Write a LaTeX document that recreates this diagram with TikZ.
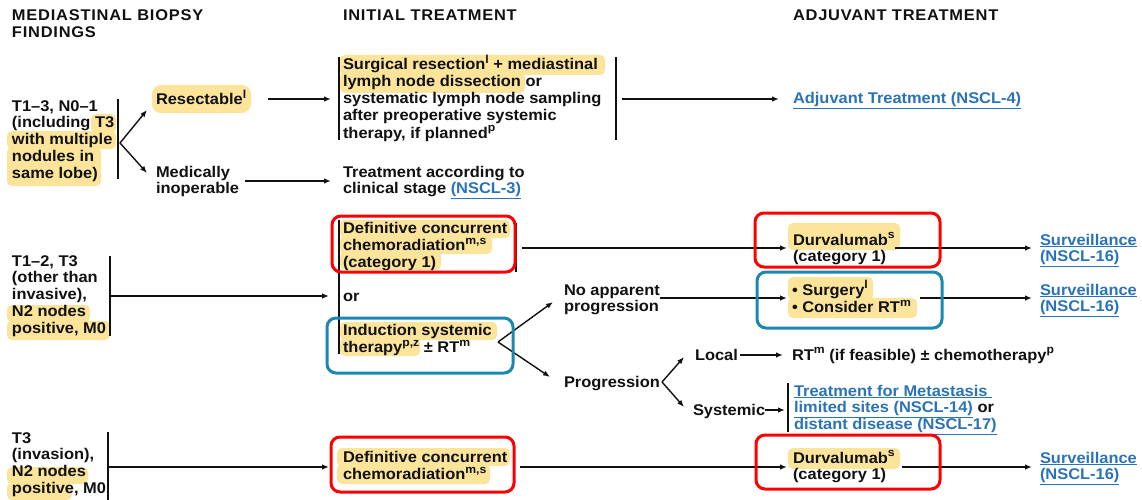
\documentclass[tikz,border=0pt]{standalone}
\usepackage{fontspec}
\setmainfont{Liberation Sans}[FakeStretch=1.06]
\usetikzlibrary{arrows.meta}

\definecolor{ink}{HTML}{111111}
\definecolor{hl}{HTML}{FCE49B}
\definecolor{link}{HTML}{2A73B8}
\definecolor{boxred}{HTML}{FF0000}
\definecolor{boxblue}{HTML}{1B88B4}

% multi-line text whose baseline is the first line
\newcommand\ml[1]{\begin{tabular}[t]{@{}l@{}}#1\end{tabular}}
\newcommand\lnk[1]{\textcolor{link}{\underline{#1}}}
\newcommand\spr[1]{\raisebox{0.42em}{\fontsize{11.5}{12}\selectfont #1}}

\tikzset{
  txt/.style={anchor=base west, inner sep=0pt, outer sep=0pt, text=ink,
    font=\fontsize{15.5}{16.9}\selectfont\bfseries},
  head/.style={txt, font=\fontsize{15.5}{17}\selectfont\bfseries\addfontfeatures{LetterSpace=5}},
  hilite/.style={fill=hl, rounded corners=5pt},
  flow/.style={draw=ink, line width=1.4pt, -{Latex[length=7pt,width=5.5pt]}},
  bar/.style={draw=ink, line width=1.8pt},
  redbox/.style={draw=boxred, line width=3pt, rounded corners=9pt},
  bluebox/.style={draw=boxblue, line width=3pt, rounded corners=9pt},
}

\begin{document}
\begin{tikzpicture}[x=1pt, y=-1pt]
\useasboundingbox[fill=white] (0,0) rectangle (1142,500);

% ---- highlighter marks behind the text ----
\fill[hilite] (91,114) rectangle (116,133);
\fill[hilite] (7,131) rectangle (116,149);
\fill[hilite] (7,147) rectangle (101,186);
\fill[hilite, rounded corners=9pt] (152,85) rectangle (251,113);
\fill[hilite] (340,55) rectangle (605,75);
\fill[hilite] (340,73) rectangle (525,93);
\fill[hilite] (7,305) rectangle (90,322);
\fill[hilite] (7,321) rectangle (110,340);
\fill[hilite] (340,220) rectangle (510,238);
\fill[hilite] (340,236) rectangle (492,254);
\fill[hilite] (340,252) rectangle (441,270);
\fill[hilite] (340,322) rectangle (497,340);
\fill[hilite] (340,338) rectangle (420,356);
\fill[hilite] (788,223) rectangle (900,250);
\fill[hilite] (788,277) rectangle (873,300);
\fill[hilite] (788,298) rectangle (917,318);
\fill[hilite] (7,467) rectangle (88,484);
\fill[hilite] (7,483) rectangle (72,500);
\fill[hilite] (337,448) rectangle (510,466);
\fill[hilite] (337,464) rectangle (490,484);
\fill[hilite] (788,448) rectangle (900,469);

% ---- column headings ----
\node[head] (h1) at (12,20.5) {\ml{MEDIASTINAL BIOPSY\\FINDINGS}};
\node[head] (h2) at (343,20.5) {INITIAL TREATMENT};
\node[head] (h3) at (793,20.5) {ADJUVANT TREATMENT};

% ---- first finding ----
\node[txt] (f1) at (12,111) {\ml{T1–3, N0–1\\(including T3\\with multiple\\nodules in\\same lobe)}};
\node[txt] (res) at (156,105) {Resectable\spr{l}};
\node[txt] (inop) at (156,177) {\ml{Medically\\inoperable}};
\node[txt] (surg) at (343,70) {\ml{Surgical resection\spr{l} + mediastinal\\lymph node dissection or\\systematic lymph node sampling\\after preoperative systemic\\therapy, if planned\spr{p}}};
\node[txt] (adj) at (793,104) {\lnk{Adjuvant Treatment (NSCL-4)}};
\node[txt] (clin) at (343,177) {\ml{Treatment according to\\clinical stage \lnk{(NSCL-3)}}};

% ---- second finding ----
\node[txt] (f2) at (12,266) {\ml{T1–2, T3\\(other than\\invasive),\\N2 nodes\\positive, M0}};
\node[txt] (dcc) at (343,233) {\ml{Definitive concurrent\\chemoradiation\spr{m,s}\\(category 1)}};
\node[txt] (or) at (343,301) {or};
\node[txt] (ind) at (343,335) {\ml{Induction systemic\\therapy\spr{p,z} ± RT\spr{m}}};
\node[txt] (noprog) at (564,295) {\ml{No apparent\\progression}};
\node[txt] (prog) at (564,387) {Progression};
\node[txt] (local) at (695,360) {Local};
\node[txt] (rtm) at (792,360) {RT\spr{m} (if feasible) ± chemotherapy\spr{p}};
\node[txt] (sys) at (693,415) {Systemic};
\node[txt] (meta) at (794,396) {\ml{\lnk{Treatment for Metastasis }\\\lnk{limited sites (NSCL-14)} or\\\lnk{distant disease (NSCL-17)}}};
\node[txt] (durv2) at (793,245) {\ml{Durvalumab\spr{s}\\(category 1)}};
\node[txt] (surgery) at (792,295) {\ml{• Surgery\spr{l}\\• Consider RT\spr{m}}};
\node[txt] (surv2a) at (1040,245) {\ml{\lnk{Surveillance}\\\lnk{(NSCL-16)}}};
\node[txt] (surv2b) at (1040,295) {\ml{\lnk{Surveillance}\\\lnk{(NSCL-16)}}};

% ---- third finding ----
\node[txt] (f3) at (12,443) {\ml{T3\\(invasion),\\N2 nodes\\positive, M0}};
\node[txt] (dcc3) at (343,462) {\ml{Definitive concurrent\\chemoradiation\spr{m,s}}};
\node[txt] (durv3) at (793,463) {\ml{Durvalumab\spr{s}\\(category 1)}};
\node[txt] (surv3) at (1040,463) {\ml{\lnk{Surveillance}\\\lnk{(NSCL-16)}}};

% ---- bracket bars ----
\draw[bar] (118,99) -- (118,179);
\draw[bar] (339,57) -- (339,140);
\draw[bar] (616,57) -- (616,140);
\draw[bar] (110,256) -- (110,336);
\draw[bar] (339,220) -- (339,354);
\draw[bar] (516,223) -- (516,272);
\draw[bar] (788,383) -- (788,432);
\draw[bar] (108,432) -- (108,500);

% ---- connector end points ----
\coordinate (f1fork) at (120,143);
\coordinate (resin) at (147,110);
\coordinate (inopin) at (147,173);
\coordinate (resout) at (268,99);
\coordinate (surgin) at (331,99);
\coordinate (inopout) at (245,181);
\coordinate (clinin) at (331,181);
\coordinate (surgout) at (622,99);
\coordinate (adjin) at (779,99);
\coordinate (f2out) at (110,296);
\coordinate (orin) at (329,296);
\coordinate (dccout) at (522,248);
\coordinate (durv2in) at (787,248);
\coordinate (indfork) at (498,342);
\coordinate (noprogin) at (553,302);
\coordinate (progin) at (550,377);
\coordinate (noprogout) at (660,298);
\coordinate (surgeryin) at (787,298);
\coordinate (progfork) at (662,382);
\coordinate (localin) at (684,357);
\coordinate (sysin) at (684,407);
\coordinate (localout) at (740,355);
\coordinate (rtmin) at (783,355);
\coordinate (sysout) at (765,410);
\coordinate (metain) at (785,410);
\coordinate (durv2out) at (895,248);
\coordinate (surv2ain) at (1032,248);
\coordinate (surgeryout) at (920,298);
\coordinate (surv2bin) at (1032,298);
\coordinate (f3out) at (108,467);
\coordinate (dcc3in) at (329,467);
\coordinate (dcc3out) at (520,467);
\coordinate (durv3in) at (787,467);
\coordinate (durv3out) at (902,467);
\coordinate (surv3in) at (1032,467);

% ---- connectors ----
\draw[flow] (f1fork) -- (resin);
\draw[flow] (f1fork) -- (inopin);
\draw[flow] (resout) -- (surgin);
\draw[flow] (inopout) -- (clinin);
\draw[flow] (surgout) -- (adjin);
\draw[flow] (f2out) -- (orin);
\draw[flow] (dccout) -- (durv2in);
\draw[flow] (indfork) -- (noprogin);
\draw[flow] (indfork) -- (progin);
\draw[flow] (noprogout) -- (surgeryin);
\draw[flow] (progfork) -- (localin);
\draw[flow] (progfork) -- (sysin);
\draw[flow] (localout) -- (rtmin);
\draw[flow] (sysout) -- (metain);
\draw[flow] (durv2out) -- (surv2ain);
\draw[flow] (surgeryout) -- (surv2bin);
\draw[flow] (f3out) -- (dcc3in);
\draw[flow] (dcc3out) -- (durv3in);
\draw[flow] (durv3out) -- (surv3in);

% ---- outlined groups ----
\draw[redbox] (332,216) rectangle (515,272);
\draw[redbox] (755,213) rectangle (940,267);
\draw[redbox] (331,437) rectangle (514,492);
\draw[redbox] (756,435) rectangle (940,489);
\draw[bluebox] (327,318) rectangle (513,373);
\draw[bluebox] (757,272) rectangle (942,328);
\end{tikzpicture}
\end{document}
